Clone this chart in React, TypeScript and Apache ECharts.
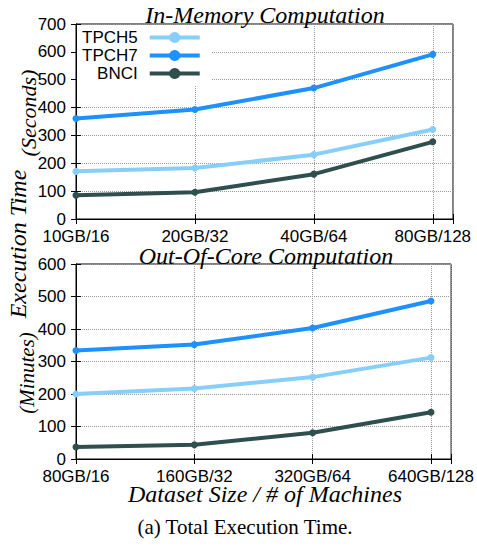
import React, { useEffect, useRef } from "react";
import * as echarts from "echarts";

const topCategories = ["10GB/16", "20GB/32", "40GB/64", "80GB/128"];
const bottomCategories = ["80GB/16", "160GB/32", "320GB/64", "640GB/128"];
const seriesNames = ["TPCH5", "TPCH7", "BNCI"];
const seriesColors = ["#87CEFA", "#1E90FF", "#2F4F4F"];

// In-Memory (seconds)
const memTPCH5 = [171, 183, 231, 321];
const memTPCH7 = [361, 393, 470, 591];
const memBNCI = [85, 96, 161, 277];

// Out-Of-Core (minutes)
const oocTPCH5 = [200, 217, 252, 312];
const oocTPCH7 = [334, 352, 403, 486];
const oocBNCI = [37, 44, 81, 144];

const topYTicks = { min: 0, max: 700, interval: 100 };
const bottomYTicks = { min: 0, max: 600, interval: 100 };

const SANS = "Liberation Sans";
const SERIF = "Liberation Serif";

export default function App() {
  const ref = useRef<HTMLDivElement>(null);
  useEffect(() => {
    if (!ref.current) return;
    const chart = echarts.init(ref.current, undefined, { renderer: "svg" });

    const xAxisBase = (gridIndex: number, cats: string[]) => ({
      type: "value" as const,
      gridIndex,
      min: 0,
      max: 3.17,
      interval: 1,
      axisLine: { show: true, lineStyle: { color: "#000", width: 1 } },
      axisTick: { show: true, inside: true, length: 5, lineStyle: { color: "#000" } },
      axisLabel: {
        show: true,
        margin: 9,
        fontFamily: SANS,
        fontSize: 17,
        color: "#000",
        formatter: (v: number) => {
          const i = Math.round(v);
          return Math.abs(v - i) < 1e-6 && cats[i] ? cats[i] : "";
        },
      },
      splitLine: { show: true, lineStyle: { color: "#999", type: "dotted", width: 1 } },
    });
    const xAxisMirror = (gridIndex: number) => ({
      type: "value" as const,
      gridIndex,
      position: "top" as const,
      min: 0,
      max: 3.17,
      interval: 1,
      axisLine: { show: true, lineStyle: { color: "#000", width: 1 } },
      axisTick: { show: true, inside: true, length: 5, lineStyle: { color: "#000" } },
      axisLabel: { show: false },
      splitLine: { show: false },
    });
    const yAxisBase = (gridIndex: number, t: { min: number; max: number; interval: number }) => ({
      type: "value" as const,
      gridIndex,
      min: t.min,
      max: t.max,
      interval: t.interval,
      axisLine: { show: true, lineStyle: { color: "#000", width: 1 } },
      axisTick: { show: true, inside: true, length: 5, lineStyle: { color: "#000" } },
      axisLabel: { show: true, margin: 10, fontFamily: SANS, fontSize: 17, color: "#000" },
      splitLine: { show: true, lineStyle: { color: "#999", type: "dotted", width: 1 } },
    });
    const yAxisMirror = (gridIndex: number, t: { min: number; max: number; interval: number }) => ({
      type: "value" as const,
      gridIndex,
      position: "right" as const,
      min: t.min,
      max: t.max,
      interval: t.interval,
      axisLine: { show: true, lineStyle: { color: "#000", width: 1 } },
      axisTick: { show: true, inside: true, length: 5, lineStyle: { color: "#000" } },
      axisLabel: { show: false },
      splitLine: { show: false },
    });

    const mkSeries = (name: string, color: string, vals: number[], axisIdx: number) => ({
      name,
      type: "line" as const,
      xAxisIndex: axisIdx,
      yAxisIndex: axisIdx,
      data: vals.map((v, i) => [i, v]),
      symbol: "circle",
      symbolSize: 7,
      lineStyle: { color, width: 4 },
      itemStyle: { color },
      z: 3,
    });

    const topData = [memTPCH5, memTPCH7, memBNCI];
    const bottomData = [oocTPCH5, oocTPCH7, oocBNCI];

    const series: any[] = [];
    seriesNames.forEach((n, i) => series.push(mkSeries(n, seriesColors[i], topData[i], 0)));
    seriesNames.forEach((n, i) => series.push(mkSeries(n, seriesColors[i], bottomData[i], 2)));

    const txt = (
      text: string,
      x: number,
      y: number,
      size: number,
      family: string,
      italic: boolean,
      rotation = 0
    ) => ({
      type: "text",
      x,
      y,
      rotation,
      z: 10,
      style: {
        text,
        fontFamily: family,
        fontSize: size,
        fontStyle: italic ? "italic" : "normal",
        fontWeight: "normal",
        fill: "#000",
        align: "center",
        verticalAlign: "middle",
      },
    });

    chart.setOption({
      animation: false,
      backgroundColor: "#fff",
      grid: [
        { left: 76, top: 24, width: 377, height: 195, show: true, borderColor: "#000", borderWidth: 1, backgroundColor: "transparent" },
        { left: 76, top: 264, width: 377, height: 195, show: true, borderColor: "#000", borderWidth: 1, backgroundColor: "transparent" },
      ],
      xAxis: [
        xAxisBase(0, topCategories),
        xAxisMirror(0),
        xAxisBase(1, bottomCategories),
        xAxisMirror(1),
      ],
      yAxis: [
        yAxisBase(0, topYTicks),
        yAxisMirror(0, topYTicks),
        yAxisBase(1, bottomYTicks),
        yAxisMirror(1, bottomYTicks),
      ],
      legend: {
        data: seriesNames,
        orient: "vertical",
        left: 77,
        top: 25,
        align: "right",
        itemWidth: 50,
        itemHeight: 14,
        itemGap: 1,
        padding: [4, 10, 4, 5],
        backgroundColor: "#fff",
        textStyle: { fontFamily: SANS, fontSize: 17, color: "#000", padding: [0, 7, 0, 0] },
        lineStyle: { width: 4 },
        selectedMode: false,
      },
      graphic: [
        txt("In-Memory Computation", 265, 15, 24, SERIF, true),
        txt("Out-Of-Core Computation", 266, 256, 24, SERIF, true),
        txt("Dataset Size / # of Machines", 265, 494, 24, SERIF, true),
        txt("(a) Total Execution Time.", 245, 527, 21, SERIF, false),
        txt("Execution Time", 18, 244, 24, SERIF, true, Math.PI / 2),
        txt("(Seconds)", 28, 113, 22, SERIF, true, Math.PI / 2),
        txt("(Minutes)", 27, 373, 21, SERIF, true, Math.PI / 2),
      ],
      series,
    });
    return () => chart.dispose();
  }, []);
  return (
    <div
      ref={ref}
      style={{ position: "fixed", left: 0, top: 0, width: 477, height: 548, background: "#fff" }}
    />
  );
}
